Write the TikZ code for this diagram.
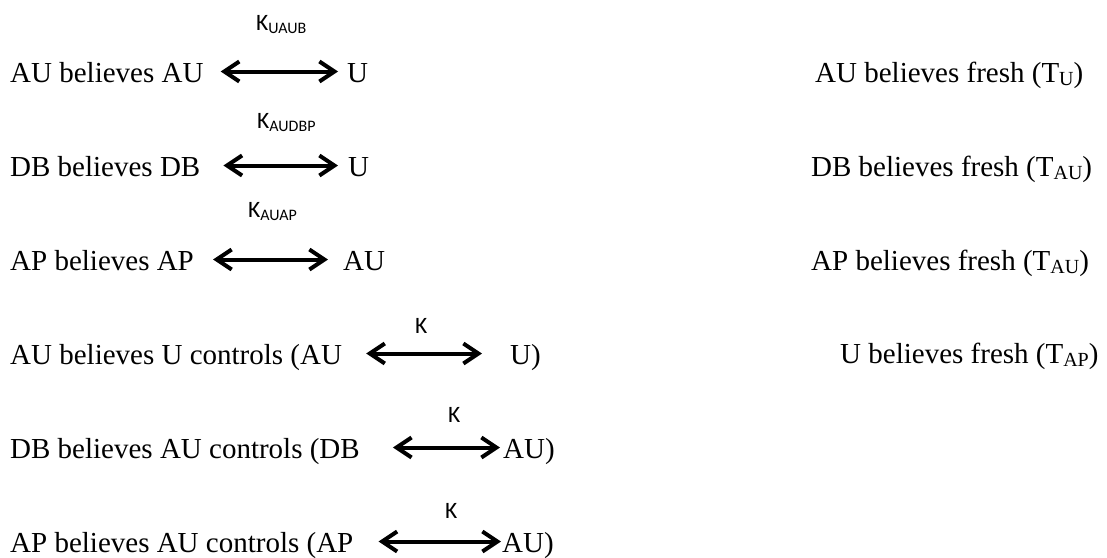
\documentclass[tikz,border=0pt]{standalone}
\usepackage{fontspec}
\setmainfont{Liberation Serif}
\newfontfamily\keyfont{Carlito}
\usetikzlibrary{arrows.meta}

% lowered, smaller subscripts in the running font
\newcommand{\tsub}[1]{\raisebox{-3pt}{\fontsize{20}{20}\selectfont #1}}
\newcommand{\ksub}[1]{\raisebox{-3pt}{\fontsize{16}{16}\selectfont #1}}

\begin{document}
\begin{tikzpicture}[x=1pt,y=-1pt,
  stmt/.style={anchor=base west, inner sep=0pt, font=\fontsize{29}{34}\selectfont},
  keylbl/.style={anchor=base west, inner sep=0pt, font=\keyfont\fontsize{23.5}{28}\selectfont},
  dbl/.style={{Straight Barb[length=15pt,width=20pt]}-{Straight Barb[length=15pt,width=20pt]}, line width=4pt}]
\useasboundingbox (0,0) rectangle (1107,557);

% row 1
\node[stmt] (l1) at (10,82) {AU believes AU};
\node[stmt] (r1) at (347,82) {U};
\node[keylbl] (k1) at (256,30) {K\ksub{UAUB}};
\draw[dbl] ([xshift=17pt,yshift=10.5pt]l1.base east) -- ([xshift=-9pt,yshift=10.5pt]r1.base west);
\node[stmt] (f1) at (815,82) {AU believes fresh (T\tsub{U})};

% row 2
\node[stmt] (l2) at (10,176) {DB believes DB};
\node[stmt] (r2) at (348,176) {U};
\node[keylbl] (k2) at (257,128) {K\ksub{AUDBP}};
\draw[dbl] ([xshift=23pt,yshift=10.5pt]l2.base east) -- ([xshift=-10pt,yshift=10.5pt]r2.base west);
\node[stmt] (f2) at (811,176) {DB believes fresh (T\tsub{AU})};

% row 3
\node[stmt] (l3) at (10,270) {AP believes AP};
\node[stmt] (r3) at (343,270) {AU};
\node[keylbl] (k3) at (248,217) {K\ksub{AUAP}};
\draw[dbl] ([xshift=19pt,yshift=10.5pt]l3.base east) -- ([xshift=-15pt,yshift=10.5pt]r3.base west);
\node[stmt] (f3) at (811,270) {AP believes fresh (T\tsub{AU})};

% row 4
\node[stmt] (l4) at (10,364) {AU believes U controls (AU};
\node[stmt] (r4) at (510,364) {U)};
\node[keylbl] (k4) at (415,333) {K};
\draw[dbl] ([xshift=24pt,yshift=10.5pt]l4.base east) -- ([xshift=-28pt,yshift=10.5pt]r4.base west);
\node[stmt] (f4) at (840,363) {U believes fresh (T\tsub{AP})};

% row 5
\node[stmt] (l5) at (10,458) {DB believes AU controls (DB};
\node[stmt] (r5) at (503,458) {AU)};
\node[keylbl] (k5) at (448,422) {K};
\draw[dbl] ([xshift=33pt,yshift=10.5pt]l5.base east) -- ([xshift=-3pt,yshift=10.5pt]r5.base west);

% row 6
\node[stmt] (l6) at (10,552) {AP believes AU controls (AP};
\node[stmt] (r6) at (502,552) {AU)};
\node[keylbl] (k6) at (445,518) {K};
\draw[dbl] ([xshift=25pt,yshift=10.5pt]l6.base east) -- ([xshift=-1pt,yshift=10.5pt]r6.base west);
\end{tikzpicture}
\end{document}
